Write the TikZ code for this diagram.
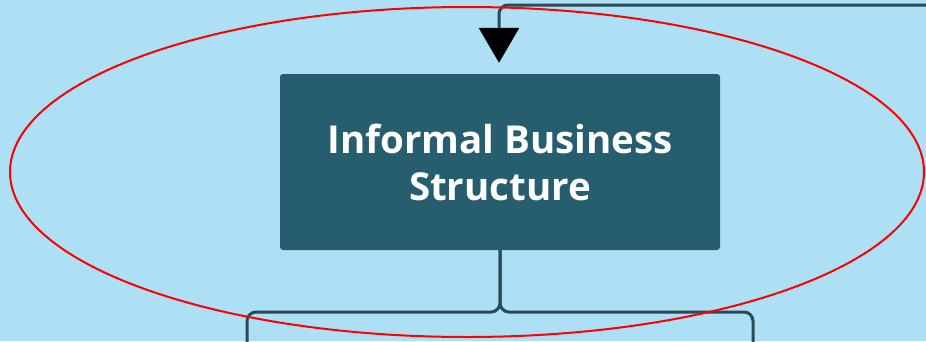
\documentclass[tikz,border=0pt]{standalone}
\usepackage{fontspec}
\setmainfont{Open Sans}
\usetikzlibrary{arrows.meta}
\definecolor{bgblue}{HTML}{ADDFF5}
\definecolor{boxteal}{HTML}{265D6F}
\definecolor{linedark}{HTML}{2A4A56}
\tikzset{
  x=1pt, y=-1pt,
  mainbox/.style={fill=boxteal, draw=none, rounded corners=3pt,
    minimum width=440pt, minimum height=176pt, inner sep=0pt,
    text=white, font=\fontsize{38.5}{47}\selectfont\bfseries, align=center},
  link/.style={draw=linedark, line width=3pt, rounded corners=9pt},
  highlight/.style={draw=red, line width=2pt}
}
\begin{document}
\begin{tikzpicture}
  \useasboundingbox (0,0) rectangle (926,341);
  \fill[bgblue] (0,0) rectangle (926,341);

  \node[mainbox] (box) at (500,162) {Informal Business\\Structure};

  % incoming connector from the upper right
  \coordinate (inR) at (930,5);
  \coordinate (bend) at (499,5);
  \draw[link, -{Triangle[width=40pt,length=35pt,fill=black,color=black]},
        shorten >=11pt] (inR) -- (bend) -- (box.north -| bend);

  % outgoing branches
  \coordinate (fork) at (500,312);
  \coordinate (outL) at (247,345);
  \coordinate (outR) at (753,345);
  \draw[link] (box.south) -- (fork) -- (fork -| outL) -- (outL);
  \draw[link] (box.south) -- (fork) -- (fork -| outR) -- (outR);

  % highlight ring
  \draw[highlight] (467,172) ellipse [x radius=457, y radius=165];
\end{tikzpicture}
\end{document}
